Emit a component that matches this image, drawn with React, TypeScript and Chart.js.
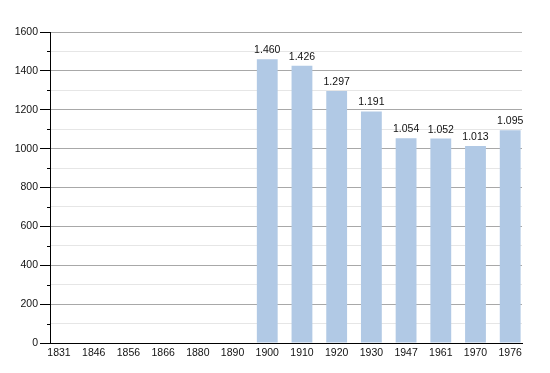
import React, { useEffect, useRef } from "react";
import { Chart, registerables } from "chart.js";

Chart.register(...registerables);

const years = ["1831", "1846", "1856", "1866", "1880", "1890", "1900", "1910", "1920", "1930", "1947", "1961", "1970", "1976"];
const population: (number | null)[] = [null, null, null, null, null, null, 1460, 1426, 1297, 1191, 1054, 1052, 1013, 1095];
const yTicks = [0, 200, 400, 600, 800, 1000, 1200, 1400, 1600];

const fmt = (v: number) => {
  const s = String(v);
  return s.length > 3 ? s.slice(0, s.length - 3) + "." + s.slice(-3) : s;
};

const FONT = "'Liberation Sans', Arial, Helvetica, sans-serif";

export default function App() {
  const ref = useRef<HTMLCanvasElement>(null);
  useEffect(() => {
    if (!ref.current) return;
    const labelPlugin = {
      id: "valueLabels",
      afterDatasetsDraw(chart: any) {
        const ctx = chart.ctx;
        const meta = chart.getDatasetMeta(0);
        ctx.save();
        ctx.font = `10.5px ${FONT}`;
        ctx.fillStyle = "#111";
        ctx.textAlign = "center";
        ctx.textBaseline = "alphabetic";
        meta.data.forEach((el: any, i: number) => {
          const v = population[i];
          if (v == null) return;
          ctx.fillText(fmt(v), el.x, el.y - 6);
        });
        ctx.restore();
      },
      afterDraw(chart: any) {
        const y = chart.scales.y;
        const x = chart.scales.x;
        const ctx = chart.ctx;
        ctx.save();
        ctx.strokeStyle = "#000";
        ctx.lineWidth = 1;
        for (let v = 100; v < 1600; v += 200) {
          const py = Math.round(y.getPixelForValue(v)) + 0.5;
          ctx.beginPath();
          ctx.moveTo(y.right - 3, py);
          ctx.lineTo(y.right, py);
          ctx.stroke();
        }
        const by = Math.round(y.getPixelForValue(0)) + 0.5;
        ctx.beginPath();
        ctx.moveTo(x.left, by);
        ctx.lineTo(x.right, by);
        ctx.stroke();
        ctx.restore();
      },
    };
    const chart = new Chart(ref.current, {
      type: "bar",
      data: {
        datasets: [
          {
            data: population.map((v, i) => ({ x: i, y: v })) as any,
            backgroundColor: "#b1c9e5",
            borderWidth: 0,
            barPercentage: 0.6,
            categoryPercentage: 1,
          },
        ],
      },
      options: {
        responsive: false,
        animation: false,
        layout: { padding: { top: 32, right: 28, left: 0, bottom: 0 } },
        plugins: { legend: { display: false }, tooltip: { enabled: false } },
        scales: {
          x: {
            type: "linear",
            offset: false,
            min: -0.26,
            max: 13.34,
            afterBuildTicks: (s: any) => {
              s.ticks = years.map((_, i) => ({ value: i }));
            },
            afterFit: (s: any) => {
              s.height = 30;
            },
            grid: { display: false, drawTicks: false },
            border: { display: true, color: "#000", width: 1 },
            ticks: {
              autoSkip: false,
              maxRotation: 0,
              padding: 4,
              color: "#111",
              font: { size: 10.5, family: FONT },
              callback: (v: any) => years[Number(v)] ?? "",
            },
          },
          y: {
            min: 0,
            max: 1600,
            afterBuildTicks: (s: any) => {
              s.ticks = [];
              for (let v = 0; v <= 1600; v += 100) s.ticks.push({ value: v });
            },
            afterFit: (s: any) => {
              s.width = 50;
            },
            grid: {
              color: (c: any) => (c.tick && c.tick.value % 200 === 0 ? "#a8a8a8" : "#e6e6e6"),
              tickColor: (c: any) => (c.tick && c.tick.value % 200 === 0 ? "#000" : "rgba(0,0,0,0)"),
              tickLength: 10,
            },
            border: { display: true, color: "#000", width: 1 },
            ticks: {
              padding: 2,
              color: "#111",
              font: { size: 10.5, family: FONT },
              callback: (v: any) => (yTicks.includes(Number(v)) ? String(v) : ""),
            },
          },
        },
      },
      plugins: [labelPlugin],
    });
    return () => chart.destroy();
  }, []);
  return (
    <div style={{ position: "fixed", left: 0, top: 0, width: 550, height: 373, background: "#fff" }}>
      <canvas ref={ref} width={550} height={373} />
    </div>
  );
}
